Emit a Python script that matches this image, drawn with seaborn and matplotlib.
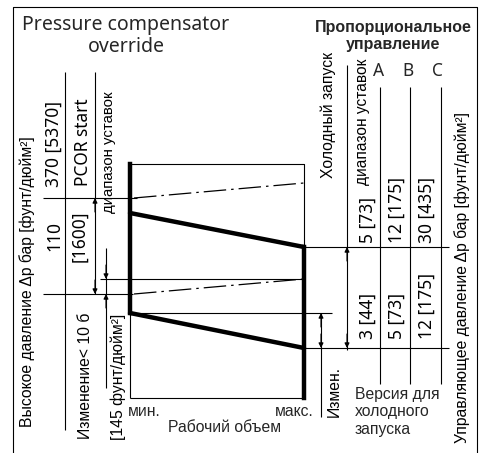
import matplotlib
matplotlib.use("Agg")
import matplotlib.pyplot as plt
import seaborn as sns
import pandas as pd

sns.set_theme(style="white")
plt.rcParams["font.family"] = ["Liberation Sans", "DejaVu Sans"]

# ---- diagram geometry (drawing units, y grows downward) ----
vol_x = [130, 304]               # min / max working volume
pcor_solid = [213, 247]          # PCOR characteristic (upper)
pcor_band = [198, 183]           # upper limit of the setting range
cold_solid = [313, 348]          # cold-start characteristic (lower)
cold_band = [294, 279]           # lower dash-dot line
box_top, box_bottom = 164, 398

vol_labels = ["мин.", "макс."]
versions = ["A", "B", "C"]
version_x = [379, 408, 437]
version_line_x = [380, 410, 441]
upper_values = ["5 [73]", "12 [175]", "30 [435]"]
lower_values = ["3 [44]", "5 [73]", "12 [175]"]
value_x = [368, 397, 427]

NUM = ["Noto Sans", "DejaVu Sans"]
LAB = ["Liberation Sans", "DejaVu Sans"]

fig = plt.figure(figsize=(4.86, 4.53), dpi=100)
ax = fig.add_axes([0, 0, 1, 1])
ax.set_xlim(0, 486)
ax.set_ylim(453, 0)
ax.axis("off")

thin = dict(color="black", lw=0.8, solid_capstyle="butt")

# outer frame
ax.plot([13, 13, 477, 477], [453, 7, 7, 453], **thin)

# characteristic curves
curves = pd.DataFrame({
    "curve": ["pcor"] * 2 + ["cold"] * 2 + ["pcor_band"] * 2 + ["cold_band"] * 2,
    "x": vol_x * 4,
    "y": pcor_solid + cold_solid + pcor_band + cold_band,
})
for name in ["pcor", "cold"]:
    sns.lineplot(data=curves[curves.curve == name], x="x", y="y", ax=ax,
                 color="black", lw=3.2, legend=False, estimator=None)
for name in ["pcor_band", "cold_band"]:
    d = curves[curves.curve == name].copy()
    d.loc[d.index[0], "x"] = vol_x[0] + 4
    sns.lineplot(data=d, x="x", y="y", ax=ax, color="black", lw=0.9,
                 dashes=False, legend=False, estimator=None,
                 linestyle=(0, (18, 4, 2, 4)))

# box around working area
ax.plot([vol_x[0], vol_x[1], vol_x[1]], [box_top, box_top, pcor_solid[1]], **thin)
ax.plot([vol_x[0], vol_x[1]], [box_bottom, box_bottom], **thin)
ax.plot([vol_x[0], vol_x[0]], [cold_solid[0], box_bottom], **thin)
ax.plot([vol_x[0], vol_x[0]], [box_top, cold_solid[0]], color="black", lw=3.2,
        solid_capstyle="projecting")
ax.plot([vol_x[1], vol_x[1]], [pcor_solid[1], box_bottom], color="black", lw=3.2,
        solid_capstyle="projecting")

# extension lines
ax.plot([43, 137], [pcor_band[0], pcor_band[0]], **thin)
ax.plot([43, 133], [cold_band[0], cold_band[0]], **thin)
ax.plot([100, vol_x[1]], [cold_band[1], cold_band[1]], **thin)
ax.plot([vol_x[0], 332], [cold_solid[0], cold_solid[0]], **thin)
ax.plot([vol_x[1], 449], [pcor_solid[1], pcor_solid[1]], **thin)
ax.plot([vol_x[1], 449], [cold_solid[1], cold_solid[1]], **thin)

# column separators
ax.plot([65, 65], [72, 430], **thin)
ax.plot([95, 95], [72, cold_band[0]], **thin)
ax.plot([106, 106], [248, 388], **thin)
ax.plot([321, 321], [cold_solid[0], 417], **thin)
ax.plot([347, 347], [65, 350], **thin)
for lx in version_line_x:
    ax.plot([lx, lx], [87, 384], **thin)


def arrow(x, tip, tail):
    ax.annotate("", xy=(x, tip), xytext=(x, tail),
                arrowprops=dict(arrowstyle="-|>", color="black", lw=0.8,
                                mutation_scale=7, shrinkA=0, shrinkB=0))


arrow(95, pcor_band[0], pcor_band[0] + 14)
arrow(95, cold_band[0], cold_band[0] - 14)
arrow(106, cold_band[1], cold_band[1] - 14)
arrow(106, cold_band[0], cold_band[0] + 14)
arrow(321, cold_solid[0], cold_solid[0] + 14)
arrow(321, cold_solid[1], cold_solid[1] - 14)
arrow(347, pcor_solid[1], pcor_solid[1] + 14)
arrow(347, cold_solid[1], cold_solid[1] - 14)


def vtext(x, y, s, size, family=LAB, ha="center", **kw):
    ax.text(x, y, s, rotation=90, rotation_mode="anchor", ha=ha, va="center",
            fontsize=size, family=family, color="black", **kw)


# headings
ax.text(126, 36, "Pressure compensator\noverride", ha="center", va="center",
        fontsize=14, family=NUM, linespacing=1.12)
ax.text(393, 36, "Пропорциональное\nуправление", ha="center", va="center",
        fontsize=11.5, family=LAB, fontweight="bold", linespacing=1.1)
for v, vx in zip(versions, version_x):
    ax.text(vx, 71, v, ha="center", va="center", fontsize=12.5, family=NUM)

# left column texts
vtext(27, 282, "Высокое давление Δр бар [фунт/дюйм²]", 11.3)
vtext(54, 144, "370 [5370]", 12.5, NUM)
vtext(54, 236, "110", 12.5, NUM)
vtext(83, 142, "PCOR start", 12.5, NUM)
vtext(79, 236, "[1600]", 12.5, NUM)
vtext(109, 152, "диапазон уставок", 10.8)
vtext(85, 376, "Изменение< 10 б", 11.3)
vtext(118, 377, "[145 фунт/дюйм²]", 11.3)

# right column texts
vtext(328, 115, "Холодный запуск", 11.3)
vtext(362, 122, "диапазон уставок", 11.2)
for s, vx in zip(upper_values, value_x):
    vtext(vx, 243, s, 12.5, NUM, ha="left")
for s, vx in zip(lower_values, value_x):
    vtext(vx, 339, s, 12.5, NUM, ha="left")
vtext(462, 443, "Управляющее давление Δр бар [фунт/дюйм²]", 11.3, ha="left")
vtext(334, 417, "Измен.", 11.3, ha="left")

ax.text(355, 387, "Версия для\nхолодного\nзапуска", ha="left", va="top",
        fontsize=11.3, family=LAB, linespacing=1.2)

# axis wording under the working area
ax.text(128, 412, vol_labels[0], ha="left", va="center", fontsize=11.3, family=LAB)
ax.text(314, 412, vol_labels[1], ha="right", va="center", fontsize=11.3, family=LAB)
ax.text(225, 428, "Рабочий объем", ha="center", va="center", fontsize=11.3, family=LAB)

fig.savefig("out.png", dpi=100)
